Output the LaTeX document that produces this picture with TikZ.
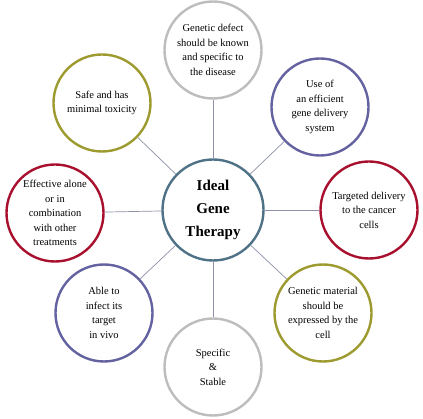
\documentclass[tikz,border=0pt]{standalone}
\usepackage{fontspec}
\setmainfont{Liberation Serif}
\definecolor{cgray}{HTML}{BDBDBD}
\definecolor{cpurple}{HTML}{6462A0}
\definecolor{cred}{HTML}{A8102E}
\definecolor{colive}{HTML}{9D9A2F}
\definecolor{cblue}{HTML}{4F7287}
\definecolor{cspoke}{HTML}{8C90A8}
\begin{document}
\begin{tikzpicture}[x=1pt,y=-1pt,
  outer/.style={circle,draw,line width=2.4pt,minimum size=97pt,inner sep=0pt,align=center,
    font=\fontsize{10.5}{14.5}\selectfont,fill=white},
  hub/.style={circle,draw=cblue,line width=2.4pt,minimum size=101pt,inner sep=0pt,align=center,
    font=\fontsize{15}{23}\selectfont\bfseries,fill=white},
  spoke/.style={draw=cspoke,line width=0.7pt}]
\useasboundingbox (0,0) rectangle (423,419);
\node[hub] (c) at (213,210) {Ideal\\Gene\\Therapy};
\node[outer,draw=cgray] (n) at (213,50) {Genetic defect\\should be known\\and specific to\\the disease};
\node[outer,draw=cpurple] (ne) at (320,107) {Use of\\an efficient\\gene delivery\\system};
\node[outer,draw=cred] (e) at (369,210) {Targeted delivery\\to the cancer\\cells};
\node[outer,draw=colive] (se) at (323,313) {Genetic material\\should be\\expressed by the\\cell};
\node[outer,draw=cgray] (s) at (213,367) {Specific\\\&\\Stable};
\node[outer,draw=cpurple] (sw) at (104,313) {Able to\\infect its\\target\\in vivo};
\node[outer,draw=cred] (w) at (55,213) {Effective alone\\or in\\combination\\with other\\treatments};
\node[outer,draw=colive] (nw) at (102,103) {Safe and has\\minimal toxicity};
\foreach \o in {n,ne,e,se,s,sw,w,nw} \draw[spoke] (c) -- (\o);
\end{tikzpicture}
\end{document}
